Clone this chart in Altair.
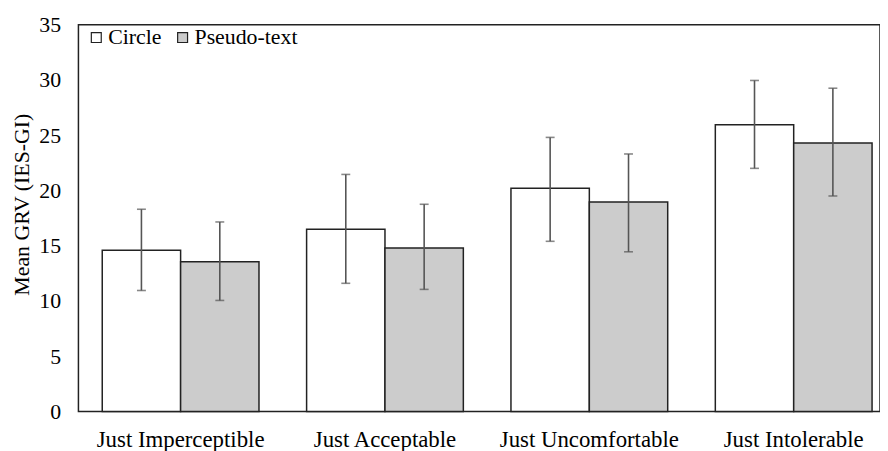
import altair as alt
import pandas as pd

categories = ["Just Imperceptible", "Just Acceptable", "Just Uncomfortable", "Just Intolerable"]
series = ["Circle", "Pseudo-text"]
circle_mean = [14.6, 16.5, 20.2, 25.95]
circle_low = [10.95, 11.6, 15.4, 22.0]
circle_high = [18.3, 21.45, 24.8, 29.95]
pseudo_mean = [13.55, 14.8, 18.95, 24.3]
pseudo_low = [10.05, 11.05, 14.45, 19.5]
pseudo_high = [17.15, 18.75, 23.3, 29.25]

rows = []
for i, c in enumerate(categories):
    rows.append(dict(cat=c, series="Circle", mean=circle_mean[i], low=circle_low[i], high=circle_high[i]))
    rows.append(dict(cat=c, series="Pseudo-text", mean=pseudo_mean[i], low=pseudo_low[i], high=pseudo_high[i]))
df = pd.DataFrame(rows)

FONT = "Liberation Serif"
FS = 22

x_scale = alt.Scale(range=[0, 824], paddingInner=0.233, paddingOuter=0.1165)
x_axis = alt.Axis(labelAngle=0, ticks=False, domain=False, labelPadding=17, title=None,
                  labelFontSize=23, labelLimit=400)
y_axis = alt.Axis(values=[0, 5, 10, 15, 20, 25, 30, 35], grid=False, ticks=False,
                  domain=False, labelPadding=18, title="Mean GRV (IES-GI)", titlePadding=5,
                  titleY=181)
xo = alt.XOffset("series:N", sort=series, scale=alt.Scale(paddingInner=0, paddingOuter=0))
y_scale = alt.Scale(domain=[0, 35], nice=False)

base = alt.Chart(df)

bars = base.mark_bar(stroke="#222", strokeWidth=1.5).encode(
    x=alt.X("cat:N", sort=categories, title=None, scale=x_scale, axis=x_axis),
    xOffset=xo,
    y=alt.Y("mean:Q", scale=y_scale, axis=y_axis, title="Mean GRV (IES-GI)"),
    fill=alt.Fill("series:N", sort=series,
                  scale=alt.Scale(domain=series, range=["#ffffff", "#cccccc"]),
                  legend=alt.Legend(title=None, orient="none", legendX=7, legendY=2,
                                    direction="horizontal", symbolType="square",
                                    symbolSize=100, symbolStrokeColor="#222",
                                    symbolStrokeWidth=1.2, labelOffset=1, columnPadding=10,
                                    padding=0)),
)

rules = base.mark_rule(color="#555", strokeWidth=1.6).encode(
    x=alt.X("cat:N", sort=categories, title=None, scale=x_scale, axis=x_axis),
    xOffset=xo,
    y=alt.Y("low:Q", scale=y_scale, axis=y_axis, title="Mean GRV (IES-GI)"),
    y2="high:Q",
)

caps_lo = base.mark_tick(color="#555", thickness=1.6, size=9).encode(
    x=alt.X("cat:N", sort=categories, title=None, scale=x_scale, axis=x_axis),
    xOffset=xo,
    y=alt.Y("low:Q", scale=y_scale, axis=y_axis, title="Mean GRV (IES-GI)"),
)
caps_hi = base.mark_tick(color="#555", thickness=1.6, size=9).encode(
    x=alt.X("cat:N", sort=categories, title=None, scale=x_scale, axis=x_axis),
    xOffset=xo,
    y=alt.Y("high:Q", scale=y_scale, axis=y_axis, title="Mean GRV (IES-GI)"),
)

chart = alt.layer(bars, rules, caps_lo, caps_hi).properties(
    width=808, height=390, autosize="none",
    padding={"left": 71, "top": 15, "right": 0, "bottom": 38},
).configure(
    background="white", font=FONT,
).configure_view(
    stroke="#222", strokeWidth=1.5,
).configure_axis(
    labelFont=FONT, labelFontSize=FS, labelColor="#000",
    titleFont=FONT, titleFontSize=FS, titleFontWeight="normal", titleColor="#000",
).configure_legend(
    labelFont=FONT, labelFontSize=FS, labelColor="#000",
)

chart.save("out.html", embed_options={"renderer": "svg", "actions": False})
